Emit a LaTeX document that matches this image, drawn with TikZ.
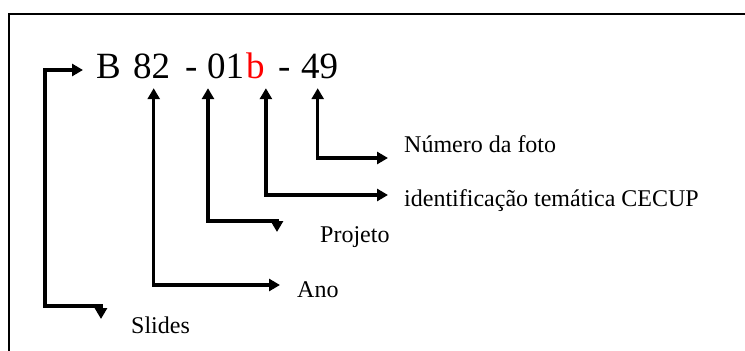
\documentclass[tikz,border=0pt]{standalone}
\usepackage{fontspec}
\setmainfont{Liberation Serif}
\usetikzlibrary{arrows.meta}

\tikzset{
    link/.style={black, line width=3.2pt, {Triangle[length=11pt,width=12pt]}-{Triangle[length=11pt,width=12pt]}},
    code/.style={inner sep=0pt, anchor=base west, text depth=10pt, font=\fontsize{37}{40}\selectfont},
    lbl/.style={inner sep=0pt, anchor=base west, font=\fontsize{24}{28}\selectfont},
}

\begin{document}
\begin{tikzpicture}[x=1pt, y=-1pt]
        \useasboundingbox (0,0) rectangle (745,351);

        % frame
        \draw[black, line width=2.2pt] (9,351) -- (9,14) -- (745,14);

        % code line
        \node[code] (nB)    at (96,78)  {B};
        \node[code] (n82)   at (133,78) {82};
        \node[code] (dashA) at (185,78) {-};
        \node[code] (n01)   at (207,78) {01};
        \node[code, text=red] (nb) at (246,78) {b};
        \node[code] (dashB) at (278,78) {-};
        \node[code] (n49)   at (301,78) {49};

        % labels
        \node[lbl] (num)    at (404,152) {Número da foto};
        \node[lbl] (cecup)  at (404,206) {identificação temática CECUP};
        \node[lbl] (proj)   at (320,242) {Projeto};
        \node[lbl] (ano)    at (297,297) {Ano};
        \node[lbl] (slides) at (131,333) {Slides};

        \coordinate (slidesEnd) at (101,306);
        \coordinate (projEnd)   at (277,221);

        \draw[link] ([xshift=-13pt,yshift=8pt]nB.base west) -- ++(-38,0) |- (slidesEnd) -- ++(0,13);
        \draw[link] ([xshift=2pt]n82.south) |- ([shift={(-17pt,12pt)}]ano.base west);
        \draw[link] ([xshift=1pt]n01.south west) |- (projEnd) -- ++(0,11);
        \draw[link] ([xshift=1pt]nb.south east) |- ([shift={(-16pt,11pt)}]cecup.base west);
        \draw[link] ([xshift=-2pt]n49.south) |- ([shift={(-16pt,-6pt)}]num.base west);
    \end{tikzpicture}
\end{document}
